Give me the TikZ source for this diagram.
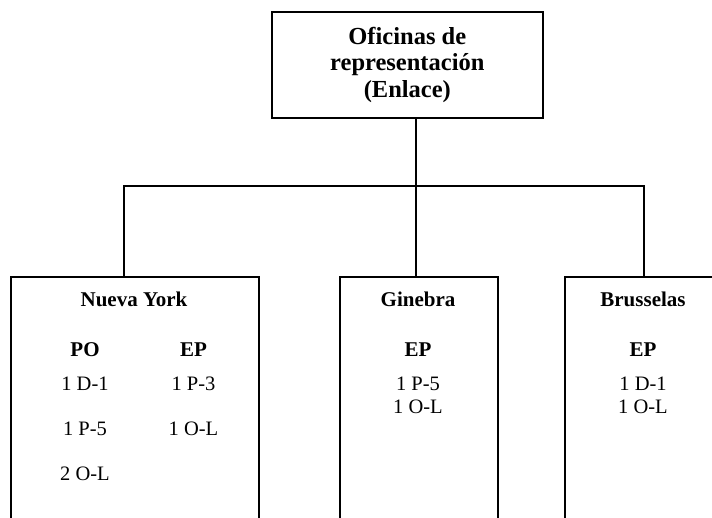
\documentclass[tikz,border=0pt]{standalone}
\usepackage{fontspec}
\setmainfont{Liberation Serif}
\usetikzlibrary{positioning}

\begin{document}
\begin{tikzpicture}[x=1pt,y=1pt,line width=1.6pt,
  caja/.style={draw=black,line width=1.6pt,rectangle,inner sep=0pt,anchor=north west},
  tit/.style={font=\fontsize{21}{24}\selectfont\bfseries,anchor=base,inner sep=0pt},
  pto/.style={font=\fontsize{20.5}{24}\selectfont,anchor=base,inner sep=0pt}]
\clip (0,0) rectangle (712,-517);
% oficina central
\node[caja,minimum width=271pt,minimum height=106pt,align=center,font=\fontsize{24.5}{26.7}\selectfont\bfseries] (ofi) at (271,-11) {Oficinas de\\representación\\(Enlace)};
% oficinas
\node[caja,minimum width=248pt,minimum height=260pt] (ny) at (10,-276) {};
\node[caja,minimum width=158pt,minimum height=260pt] (gin) at (339,-276) {};
\node[caja,minimum width=158pt,minimum height=260pt] (bru) at (564,-276) {};
% Nueva York
\node[tit] (nyT) at (134,-306) {Nueva York};
\node[tit] (nyPO) at (85,-356) {PO};
\node[tit] (nyEP) at (193.5,-356) {EP};
\node[pto] (nyP1) at (85,-390) {1 D-1};
\node[pto] (nyP2) at (85,-435) {1 P-5};
\node[pto] (nyP3) at (85,-480) {2 O-L};
\node[pto] (nyE1) at (193.5,-390) {1 P-3};
\node[pto] (nyE2) at (193.5,-435) {1 O-L};
% Ginebra
\node[tit] (ginT) at (418,-306) {Ginebra};
\node[tit] (ginEP) at (418,-356) {EP};
\node[pto] (ginE1) at (418,-390) {1 P-5};
\node[pto] (ginE2) at (418,-413) {1 O-L};
% Brusselas
\node[tit] (bruT) at (643,-306) {Brusselas};
\node[tit] (bruEP) at (643,-356) {EP};
\node[pto] (bruE1) at (643,-390) {1 D-1};
\node[pto] (bruE2) at (643,-413) {1 O-L};
% conectores
\coordinate (bus) at (416,-186);
\draw (ofi.south -| bus) -- (bus);
\draw ([xshift=-11pt]ny.north) |- (bus);
\draw (bus) -| (bru.north);
\draw (bus) -- (gin.north -| bus);
\end{tikzpicture}
\end{document}
